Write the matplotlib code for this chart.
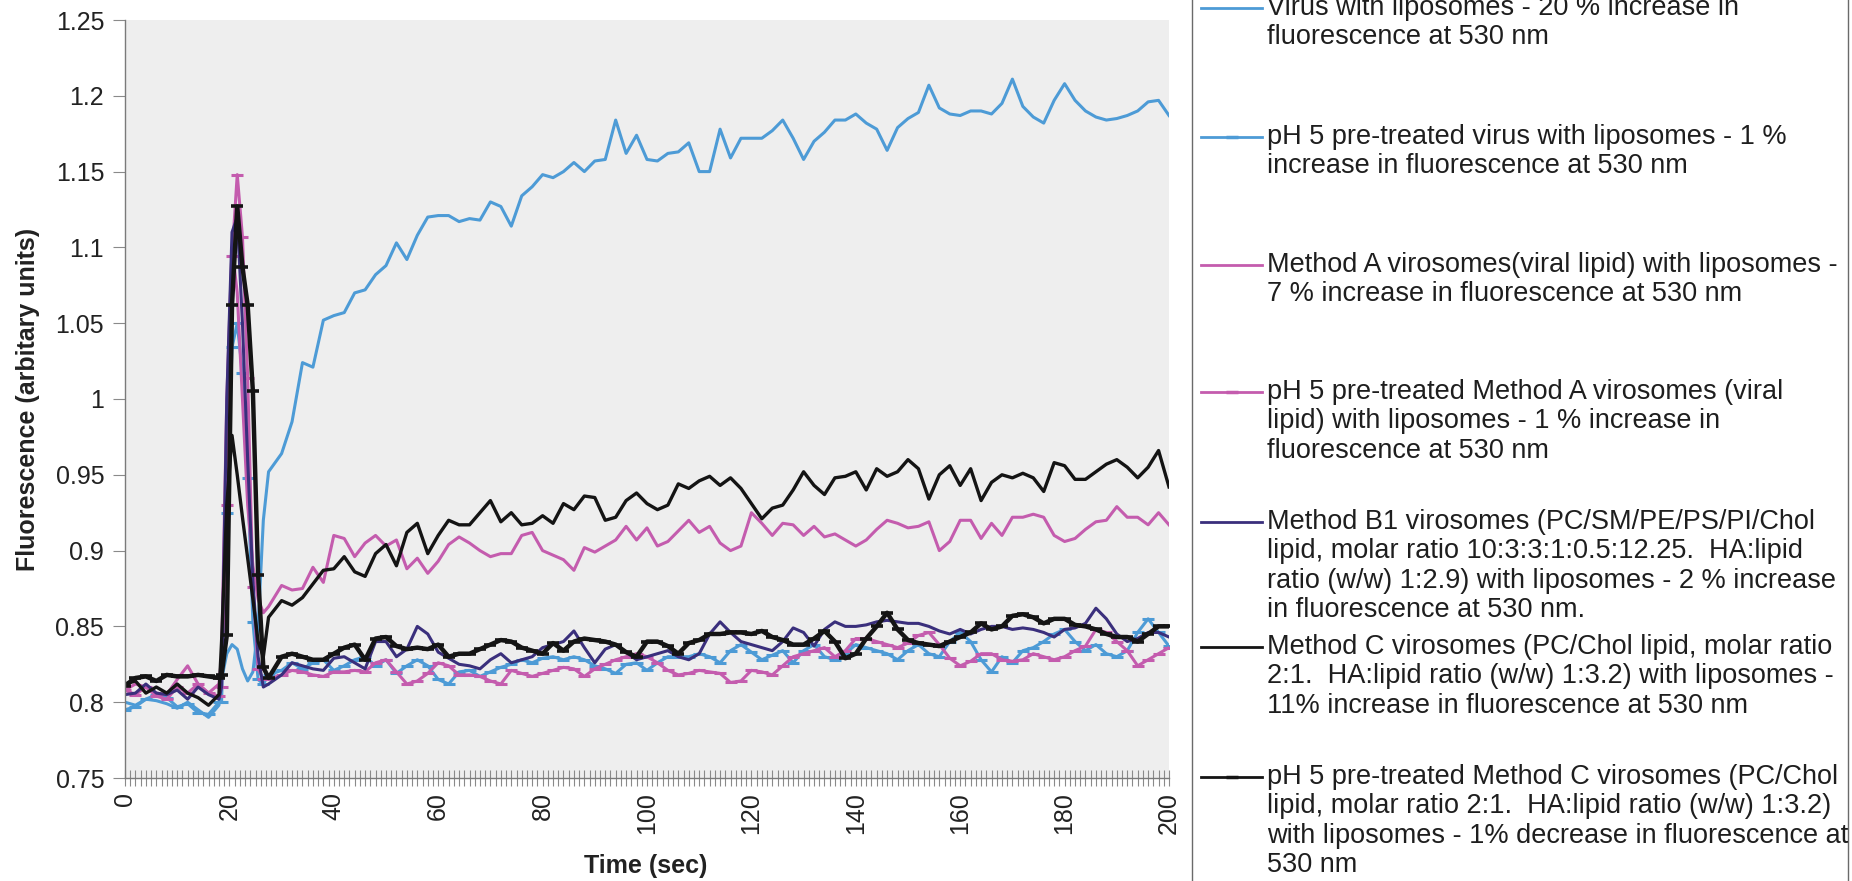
import matplotlib
matplotlib.use("Agg")
import matplotlib.pyplot as plt
from matplotlib.ticker import MultipleLocator, FixedLocator
from matplotlib.lines import Line2D
from matplotlib.patches import Rectangle

# ---------------- data ----------------
# sample times: every 2 s, but every 1 s through the injection spike
time_s = (list(range(0, 19, 2)) + [18.5 + i for i in range(10)]
          + list(range(30, 201, 2)))

virus = [0.800, 0.798, 0.802, 0.801, 0.799, 0.796, 0.800, 0.795, 0.790, 0.798,
         0.815, 0.832, 0.838, 0.835, 0.822, 0.814, 0.820, 0.850, 0.920, 0.952,
         0.964, 0.985, 1.024, 1.021, 1.052, 1.055, 1.057, 1.070, 1.072, 1.082,
         1.088, 1.103, 1.092, 1.108, 1.120, 1.121, 1.121, 1.117, 1.119, 1.118,
         1.130, 1.127, 1.114, 1.134, 1.140, 1.148, 1.146, 1.150, 1.156, 1.150,
         1.157, 1.158, 1.184, 1.162, 1.174, 1.158, 1.157, 1.162, 1.163, 1.169,
         1.150, 1.150, 1.178, 1.159, 1.172, 1.172, 1.172, 1.177, 1.184, 1.172,
         1.158, 1.170, 1.176, 1.184, 1.184, 1.188, 1.182, 1.178, 1.164, 1.179,
         1.185, 1.189, 1.207, 1.192, 1.188, 1.187, 1.190, 1.190, 1.188, 1.195,
         1.211, 1.193, 1.186, 1.182, 1.197, 1.208, 1.197, 1.190, 1.186, 1.184,
         1.185, 1.187, 1.190, 1.196, 1.197, 1.187]

ph5_virus = [0.795, 0.797, 0.802, 0.805, 0.803, 0.797, 0.799, 0.793, 0.792, 0.800,
             0.800, 0.925, 1.034, 1.050, 1.017, 0.948, 0.853, 0.815, 0.812, 0.818,
             0.821, 0.826, 0.822, 0.826, 0.828, 0.821, 0.824, 0.828, 0.830, 0.824,
             0.828, 0.819, 0.824, 0.828, 0.824, 0.815, 0.812, 0.820, 0.821, 0.817,
             0.820, 0.823, 0.825, 0.828, 0.826, 0.829, 0.830, 0.828, 0.830, 0.828,
             0.824, 0.822, 0.819, 0.825, 0.826, 0.821, 0.826, 0.830, 0.830, 0.830,
             0.832, 0.830, 0.826, 0.834, 0.838, 0.833, 0.828, 0.831, 0.834, 0.826,
             0.834, 0.838, 0.830, 0.828, 0.832, 0.838, 0.836, 0.834, 0.832, 0.828,
             0.834, 0.838, 0.832, 0.830, 0.840, 0.846, 0.840, 0.828, 0.820, 0.830,
             0.826, 0.834, 0.836, 0.840, 0.845, 0.848, 0.840, 0.834, 0.838, 0.832,
             0.830, 0.834, 0.846, 0.855, 0.846, 0.837]

method_a = [0.808, 0.812, 0.810, 0.806, 0.805, 0.815, 0.824, 0.812, 0.806, 0.812,
            0.830, 1.000, 1.100, 1.070, 1.000, 0.930, 0.890, 0.868, 0.859, 0.863,
            0.877, 0.874, 0.875, 0.889, 0.879, 0.910, 0.908, 0.896, 0.905, 0.910,
            0.903, 0.907, 0.888, 0.895, 0.885, 0.893, 0.904, 0.909, 0.905, 0.900,
            0.896, 0.898, 0.898, 0.910, 0.912, 0.900, 0.897, 0.894, 0.887, 0.902,
            0.899, 0.903, 0.907, 0.916, 0.907, 0.915, 0.903, 0.906, 0.913, 0.920,
            0.912, 0.916, 0.905, 0.900, 0.903, 0.925, 0.918, 0.910, 0.918, 0.917,
            0.910, 0.916, 0.909, 0.911, 0.907, 0.903, 0.907, 0.914, 0.920, 0.918,
            0.915, 0.916, 0.919, 0.900, 0.906, 0.920, 0.920, 0.908, 0.918, 0.910,
            0.922, 0.922, 0.924, 0.922, 0.910, 0.906, 0.908, 0.914, 0.919, 0.920,
            0.929, 0.922, 0.922, 0.917, 0.925, 0.917]

ph5_method_a = [0.808, 0.805, 0.810, 0.804, 0.802, 0.810, 0.806, 0.812, 0.806, 0.804,
                0.810, 0.930, 1.094, 1.148, 1.107, 1.014, 0.876, 0.822, 0.815, 0.815,
                0.818, 0.821, 0.820, 0.818, 0.817, 0.820, 0.820, 0.821, 0.820, 0.826,
                0.828, 0.820, 0.812, 0.814, 0.819, 0.826, 0.824, 0.818, 0.818, 0.817,
                0.814, 0.812, 0.821, 0.819, 0.817, 0.819, 0.821, 0.823, 0.822, 0.817,
                0.822, 0.825, 0.828, 0.830, 0.832, 0.830, 0.826, 0.821, 0.818, 0.819,
                0.821, 0.820, 0.819, 0.813, 0.814, 0.821, 0.820, 0.818, 0.824, 0.830,
                0.832, 0.834, 0.836, 0.830, 0.834, 0.842, 0.842, 0.840, 0.838, 0.836,
                0.839, 0.844, 0.846, 0.838, 0.829, 0.824, 0.827, 0.832, 0.832, 0.828,
                0.827, 0.828, 0.832, 0.830, 0.828, 0.830, 0.834, 0.837, 0.848, 0.846,
                0.840, 0.834, 0.824, 0.828, 0.832, 0.836]

method_b1 = [0.805, 0.806, 0.812, 0.806, 0.805, 0.808, 0.802, 0.810, 0.805, 0.802,
             0.810, 1.000, 1.110, 1.120, 1.050, 0.960, 0.880, 0.830, 0.810, 0.812,
             0.818, 0.826, 0.824, 0.822, 0.821, 0.829, 0.830, 0.826, 0.822, 0.840,
             0.840, 0.830, 0.835, 0.850, 0.845, 0.833, 0.829, 0.825, 0.824, 0.822,
             0.828, 0.832, 0.826, 0.828, 0.830, 0.836, 0.838, 0.840, 0.847, 0.836,
             0.826, 0.835, 0.838, 0.833, 0.828, 0.830, 0.832, 0.834, 0.830, 0.828,
             0.832, 0.845, 0.853, 0.846, 0.840, 0.838, 0.836, 0.834, 0.840, 0.849,
             0.846, 0.837, 0.848, 0.853, 0.850, 0.850, 0.851, 0.853, 0.854, 0.853,
             0.852, 0.852, 0.850, 0.847, 0.845, 0.848, 0.845, 0.848, 0.850, 0.850,
             0.848, 0.849, 0.848, 0.846, 0.843, 0.848, 0.849, 0.852, 0.862, 0.855,
             0.845, 0.840, 0.842, 0.846, 0.846, 0.843]

method_c = [0.812, 0.814, 0.806, 0.810, 0.806, 0.812, 0.806, 0.803, 0.798, 0.805,
            0.840, 0.930, 0.976, 0.950, 0.922, 0.895, 0.868, 0.840, 0.830, 0.856,
            0.867, 0.864, 0.869, 0.878, 0.887, 0.888, 0.896, 0.886, 0.883, 0.898,
            0.904, 0.890, 0.912, 0.918, 0.898, 0.910, 0.920, 0.917, 0.917, 0.925,
            0.933, 0.919, 0.925, 0.917, 0.918, 0.923, 0.918, 0.931, 0.927, 0.936,
            0.935, 0.920, 0.922, 0.933, 0.938, 0.931, 0.927, 0.930, 0.944, 0.941,
            0.946, 0.949, 0.943, 0.948, 0.941, 0.931, 0.921, 0.928, 0.930, 0.940,
            0.952, 0.943, 0.937, 0.948, 0.949, 0.952, 0.940, 0.954, 0.949, 0.952,
            0.960, 0.954, 0.934, 0.950, 0.956, 0.943, 0.954, 0.933, 0.945, 0.950,
            0.948, 0.951, 0.948, 0.939, 0.958, 0.956, 0.947, 0.947, 0.952, 0.957,
            0.960, 0.955, 0.948, 0.955, 0.966, 0.942]

ph5_method_c = [0.811, 0.816, 0.817, 0.814, 0.818, 0.817, 0.817, 0.818, 0.817, 0.816,
                0.818, 0.844, 1.062, 1.127, 1.087, 1.062, 1.005, 0.884, 0.823, 0.816,
                0.830, 0.832, 0.830, 0.828, 0.828, 0.832, 0.836, 0.838, 0.828, 0.842,
                0.843, 0.837, 0.835, 0.836, 0.835, 0.838, 0.830, 0.832, 0.832, 0.835,
                0.838, 0.841, 0.840, 0.836, 0.834, 0.832, 0.839, 0.834, 0.840, 0.842,
                0.841, 0.840, 0.838, 0.833, 0.830, 0.840, 0.840, 0.837, 0.832, 0.839,
                0.841, 0.845, 0.845, 0.846, 0.846, 0.845, 0.847, 0.843, 0.841, 0.838,
                0.838, 0.842, 0.847, 0.840, 0.829, 0.832, 0.842, 0.850, 0.859, 0.848,
                0.841, 0.839, 0.838, 0.837, 0.840, 0.843, 0.846, 0.852, 0.848, 0.850,
                0.857, 0.858, 0.856, 0.852, 0.855, 0.855, 0.851, 0.850, 0.848, 0.845,
                0.843, 0.843, 0.840, 0.845, 0.850, 0.850]

labels = [
    "Virus with liposomes - 20 % increase in\nfluorescence at 530 nm",
    "pH 5 pre-treated virus with liposomes - 1 %\nincrease in fluorescence at 530 nm",
    "Method A virosomes(viral lipid) with liposomes -\n7 % increase in fluorescence at 530 nm",
    "pH 5 pre-treated Method A virosomes (viral\nlipid) with liposomes - 1 % increase in\nfluorescence at 530 nm",
    "Method B1 virosomes (PC/SM/PE/PS/PI/Chol\nlipid, molar ratio 10:3:3:1:0.5:12.25.  HA:lipid\nratio (w/w) 1:2.9) with liposomes - 2 % increase\nin fluorescence at 530 nm.",
    "Method C virosomes (PC/Chol lipid, molar ratio\n2:1.  HA:lipid ratio (w/w) 1:3.2) with liposomes -\n11% increase in fluorescence at 530 nm",
    "pH 5 pre-treated Method C virosomes (PC/Chol\nlipid, molar ratio 2:1.  HA:lipid ratio (w/w) 1:3.2)\nwith liposomes - 1% decrease in fluorescence at\n530 nm",
]

x_ticks = [0, 20, 40, 60, 80, 100, 120, 140, 160, 180, 200]
y_ticks = [0.75, 0.8, 0.85, 0.9, 0.95, 1.0, 1.05, 1.1, 1.15, 1.2, 1.25]
y_ticklabels = ["0.75", "0.8", "0.85", "0.9", "0.95", "1", "1.05", "1.1", "1.15", "1.2", "1.25"]

for s in (virus, ph5_virus, method_a, ph5_method_a, method_b1, method_c, ph5_method_c):
    assert len(s) == len(time_s)

# ---------------- styling ----------------
BLUE = "#4d9bd6"
PINK = "#c45cae"
NAVY = "#3a2f7c"
BLACK = "#141414"

styles = [
    dict(color=BLUE, lw=2.2),
    dict(color=BLUE, lw=2.2, marker="_", ms=8, mew=2.2),
    dict(color=PINK, lw=2.2),
    dict(color=PINK, lw=2.2, marker="_", ms=8, mew=2.2),
    dict(color=NAVY, lw=2.2),
    dict(color=BLACK, lw=2.4),
    dict(color=BLACK, lw=3.2, marker="_", ms=8, mew=2.6),
]
series = [virus, ph5_virus, method_a, ph5_method_a, method_b1, method_c, ph5_method_c]

W, H = 1852, 881
fig = plt.figure(figsize=(W / 100, H / 100), dpi=100)
fig.patch.set_facecolor("white")

L, R, T, B = 125, 1169, 20, 778
ax = fig.add_axes([L / W, 1 - B / H, (R - L) / W, (B - T) / H])
ax.set_facecolor("#eeeeee")

for ys, st in zip(series, styles):
    ax.plot(time_s, ys, solid_joinstyle="round", **st)

ax.set_xlim(0, 200)
ax.set_ylim(0.75, 1.25)

for sp in ("top", "right"):
    ax.spines[sp].set_visible(False)
for sp in ("left", "bottom"):
    ax.spines[sp].set_color("#7a7a7a")
    ax.spines[sp].set_linewidth(1.0)

tick_font = dict(family="Liberation Sans", size=18)
ax.xaxis.set_major_locator(FixedLocator(x_ticks))
ax.xaxis.set_minor_locator(MultipleLocator(1))
ax.set_xticklabels([str(v) for v in x_ticks], rotation=90, color="#222222", **tick_font)
ax.tick_params(axis="x", which="both", direction="inout", length=12, width=0.8,
               color="#8a8a8a", pad=4)
ax.yaxis.set_major_locator(FixedLocator(y_ticks))
ax.set_yticklabels(y_ticklabels, color="#222222", **tick_font)
ax.tick_params(axis="y", which="major", direction="out", length=9, width=0.8,
               color="#8a8a8a", pad=6)

lab_font = dict(family="Liberation Sans", size=18, weight="bold", color="#222222")
fig.text(28 / W, 1 - 399 / H, "Fluorescence (arbitary units)", rotation=90,
         ha="center", va="center", **lab_font)
fig.text(646 / W, 1 - 866 / H, "Time (sec)", ha="center", va="center", **lab_font)

# ---------------- legend (manually laid out like the Excel legend) ----------------
LEG_L, LEG_R = 1192, 1848
box = Rectangle((LEG_L / W, -0.02), (LEG_R - LEG_L) / W, 1.05, transform=fig.transFigure,
                fill=False, edgecolor="#6a6a6a", lw=1.0, clip_on=False)
fig.add_artist(box)

first_line_y = [8, 137, 265, 392, 522, 647, 777]
pitch = 29.3
HX0, HX1, TX = 1201, 1262, 1267
leg_font = dict(family="Liberation Sans", size=19.5, color="#1e1e1e")
for lab, st, y0 in zip(labels, styles, first_line_y):
    yf = 1 - y0 / H
    ln = Line2D([HX0 / W, HX1 / W], [yf, yf], transform=fig.transFigure,
                color=st["color"], lw=2.0)
    fig.add_artist(ln)
    if "marker" in st:
        mk = Line2D([(HX0 + HX1) / 2 / W], [yf], transform=fig.transFigure,
                    color=st["color"], marker="_", ms=8, mew=2.5, lw=0)
        fig.add_artist(mk)
    for i, line in enumerate(lab.split("\n")):
        fig.text(TX / W, 1 - (y0 + i * pitch) / H, line, ha="left", va="center",
                 **leg_font)

fig.savefig("out.png", dpi=100, facecolor="white")
